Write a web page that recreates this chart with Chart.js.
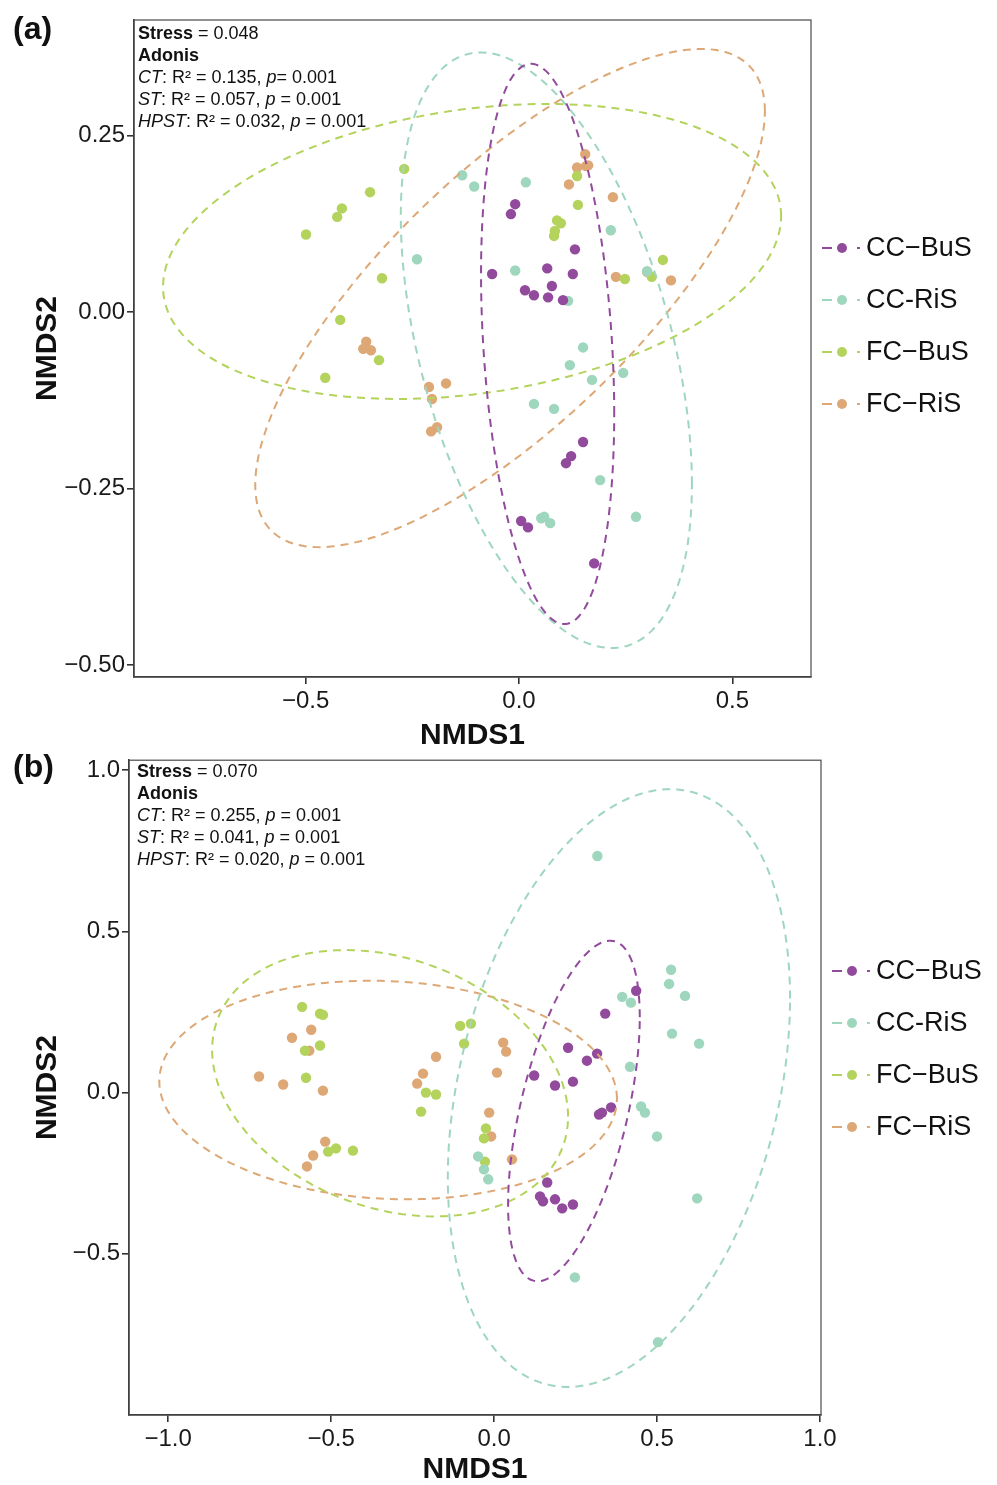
<!DOCTYPE html>
<html>
<head>
<meta charset="utf-8">
<script src="https://cdn.jsdelivr.net/npm/chart.js@4.4.1/dist/chart.umd.min.js"></script>
<style>
body { margin: 0; background: #fff; width: 997px; height: 1485px; position: relative; overflow: hidden; font-family: "Liberation Sans", Arial, sans-serif; }
canvas { position: absolute; left: 0; }
#chart-a { top: 0; }
#chart-b { top: 755px; }
.note { position: absolute; font-size: 18px; line-height: 22px; color: #111; white-space: nowrap; }
.tag { position: absolute; font-size: 32px; font-weight: bold; color: #111; }
</style>
</head>
<body>
<canvas id="chart-a" width="997" height="755"></canvas>
<canvas id="chart-b" width="997" height="730"></canvas>
<div class="tag" style="left:13px;top:10px">(a)</div>
<div class="tag" style="left:13px;top:748px">(b)</div>
<div class="note" style="left:138px;top:22px"><b>Stress</b> = 0.048<br><b>Adonis</b><br><i>CT</i>: R² = 0.135, <i>p</i>= 0.001<br><i>ST</i>: R² = 0.057, <i>p</i> = 0.001<br><i>HPST</i>: R² = 0.032, <i>p</i> = 0.001</div>
<div class="note" style="left:137px;top:760px"><b>Stress</b> = 0.070<br><b>Adonis</b><br><i>CT</i>: R² = 0.255, <i>p</i> = 0.001<br><i>ST</i>: R² = 0.041, <i>p</i> = 0.001<br><i>HPST</i>: R² = 0.020, <i>p</i> = 0.001</div>
<script>
const groups = ['CC−BuS', 'CC-RiS', 'FC−BuS', 'FC−RiS'];
const groupColors = ['#924B9C', '#9ED6BE', '#B3D35C', '#DDA875'];

// ---- panel (a) points ----
const aCCBuSx = [-0.009, -0.019, 0.131, -0.063, 0.066, 0.126, 0.077, 0.014, 0.035, 0.068, 0.103, 0.150, 0.122, 0.110, 0.005, 0.021, 0.176];
const aCCBuSy = [0.153, 0.139, 0.089, 0.054, 0.062, 0.054, 0.037, 0.031, 0.024, 0.021, 0.017, -0.184, -0.204, -0.214, -0.296, -0.305, -0.356];
const aCCRiSx = [-0.133, -0.105, 0.016, -0.239, 0.215, -0.009, 0.300, 0.115, 0.150, 0.119, 0.171, 0.244, 0.035, 0.082, 0.190, 0.052, 0.059, 0.073, 0.274];
const aCCRiSy = [0.194, 0.178, 0.184, 0.075, 0.116, 0.059, 0.058, 0.016, -0.050, -0.075, -0.096, -0.086, -0.130, -0.137, -0.238, -0.292, -0.290, -0.299, -0.290];
const aFCBuSx = [-0.269, -0.349, -0.415, -0.426, -0.499, -0.321, -0.419, -0.328, -0.454, 0.136, 0.138, 0.089, 0.098, 0.084, 0.082, 0.337, 0.248, 0.311];
const aFCBuSy = [0.203, 0.170, 0.147, 0.135, 0.110, 0.048, -0.011, -0.068, -0.093, 0.193, 0.152, 0.130, 0.126, 0.115, 0.108, 0.074, 0.047, 0.050];
const aFCRiSx = [0.155, 0.136, 0.157, 0.162, 0.117, 0.220, 0.227, 0.300, 0.356, -0.358, -0.365, -0.347, -0.211, -0.171, -0.204, -0.206, -0.192];
const aFCRiSy = [0.224, 0.205, 0.207, 0.208, 0.181, 0.163, 0.050, 0.057, 0.045, -0.042, -0.052, -0.054, -0.106, -0.101, -0.123, -0.169, -0.163];

// ellipse: centre x, centre y, half width, half height, correlation
const aCCBuSell = [0.067, -0.045, 0.156, 0.397, -0.25];
const aCCRiSell = [0.064, -0.054, 0.341, 0.422, -0.45];
const aFCBuSell = [-0.110, 0.086, 0.724, 0.209, 0.24];
const aFCRiSell = [-0.021, 0.020, 0.597, 0.353, 0.75];

const aXTicks = [-0.5, 0, 0.5];
const aXLabels = ['−0.5', '0.0', '0.5'];
const aYTicks = [-0.5, -0.25, 0, 0.25];
const aYLabels = ['−0.50', '−0.25', '0.00', '0.25'];

// ---- panel (b) points ----
const bCCBuSx = [0.436, 0.341, 0.227, 0.316, 0.285, 0.123, 0.242, 0.187, 0.359, 0.331, 0.322, 0.163, 0.141, 0.150, 0.187, 0.242, 0.209];
const bCCBuSy = [0.316, 0.245, 0.139, 0.121, 0.099, 0.053, 0.034, 0.022, -0.046, -0.062, -0.068, -0.279, -0.322, -0.337, -0.331, -0.347, -0.359];
const bCCRiSx = [0.317, 0.543, 0.537, 0.586, 0.393, 0.420, 0.546, 0.629, 0.417, 0.451, 0.463, 0.500, 0.623, 0.248, 0.503, -0.049, -0.031, -0.018];
const bCCRiSy = [0.734, 0.381, 0.337, 0.300, 0.297, 0.279, 0.183, 0.152, 0.080, -0.043, -0.062, -0.136, -0.328, -0.573, -0.774, -0.198, -0.238, -0.269];
const bFCBuSx = [-0.589, -0.534, -0.525, -0.534, -0.580, -0.577, -0.509, -0.485, -0.433, -0.104, -0.071, -0.092, -0.209, -0.178, -0.224, -0.025, -0.031, -0.028];
const bFCBuSy = [0.266, 0.245, 0.241, 0.146, 0.130, 0.046, -0.183, -0.173, -0.180, 0.207, 0.214, 0.152, 0.000, -0.006, -0.059, -0.111, -0.142, -0.214];
const bFCRiSx = [-0.561, -0.620, -0.567, -0.721, -0.647, -0.525, -0.518, -0.555, -0.574, -0.178, -0.218, -0.236, 0.028, 0.037, 0.009, -0.015, -0.009, 0.055];
const bFCRiSy = [0.195, 0.170, 0.130, 0.050, 0.025, 0.006, -0.152, -0.195, -0.229, 0.111, 0.059, 0.028, 0.155, 0.127, 0.062, -0.062, -0.136, -0.207];

const bCCBuSell = [0.245, -0.057, 0.202, 0.528, 0.55];
const bCCRiSell = [0.383, 0.014, 0.525, 0.927, 0.30];
const bFCBuSell = [-0.319, 0.029, 0.546, 0.413, -0.25];
const bFCRiSell = [-0.325, 0.008, 0.702, 0.339, -0.08];

const bXTicks = [-1, -0.5, 0, 0.5, 1];
const bXLabels = ['−1.0', '−0.5', '0.0', '0.5', '1.0'];
const bYTicks = [-0.5, 0, 0.5, 1];
const bYLabels = ['−0.5', '0.0', '0.5', '1.0'];

const FONT = '"Liberation Sans", Arial, sans-serif';

// outline of an ellipse given centre, half extents and x/y correlation
function ellipseOutline(e) {
    const [cx, cy, rx, ry, rho] = e;
    const phi = Math.acos(rho);
    const pts = [];
    for (let i = 0; i <= 180; i++) {
        const t = i / 180 * 2 * Math.PI;
        pts.push({ x: cx + rx * Math.cos(t), y: cy + ry * Math.cos(t - phi) });
    }
    return pts;
}

function zip(xs, ys) {
    return xs.map((x, i) => ({ x: x, y: ys[i] }));
}

const frame = {
    id: 'frame',
    afterDatasetsDraw(chart) {
        const a = chart.chartArea;
        const ctx = chart.ctx;
        ctx.save();
        ctx.strokeStyle = '#4a4a4a';
        ctx.lineWidth = 1.2;
        ctx.strokeRect(a.left, a.top, a.right - a.left, a.bottom - a.top);
        ctx.restore();
    }
};

const sideLegend = {
    id: 'sideLegend',
    afterDraw(chart, args, opts) {
        const ctx = chart.ctx;
        ctx.save();
        groups.forEach((name, i) => {
            const y = opts.top + i * opts.gap;
            ctx.strokeStyle = groupColors[i];
            ctx.lineWidth = 2;
            ctx.setLineDash([10, 25]);
            ctx.beginPath();
            ctx.moveTo(opts.x, y);
            ctx.lineTo(opts.x + 38, y);
            ctx.stroke();
            ctx.setLineDash([]);
            ctx.fillStyle = groupColors[i];
            ctx.beginPath();
            ctx.arc(opts.x + 20, y, 5, 0, 2 * Math.PI);
            ctx.fill();
            ctx.fillStyle = '#111';
            ctx.font = '27px ' + FONT;
            ctx.textBaseline = 'middle';
            ctx.fillText(name, opts.x + 44, y + 1);
        });
        ctx.restore();
    }
};

function makeChart(id, pointSets, ellipses, p) {
    const datasets = [];
    ellipses.forEach((e, i) => {
        datasets.push({
            data: ellipseOutline(e),
            showLine: true,
            pointRadius: 0,
            borderColor: groupColors[i],
            borderWidth: 2,
            borderDash: [8, 6],
            fill: false,
            tension: 0,
            order: 1
        });
    });
    pointSets.forEach((s, i) => {
        datasets.push({
            data: zip(s[0], s[1]),
            pointRadius: 5.2,
            pointBorderWidth: 0,
            backgroundColor: groupColors[i],
            borderColor: groupColors[i],
            order: 2
        });
    });

    const tickFont = { family: FONT, size: 24 };
    const titleFont = { family: FONT, size: 30, weight: 'bold', lineHeight: 1 };

    return new Chart(document.getElementById(id), {
        type: 'scatter',
        data: { datasets: datasets },
        plugins: [frame, sideLegend],
        options: {
            responsive: false,
            animation: false,
            events: [],
            layout: { padding: p.padding },
            plugins: {
                legend: { display: false },
                tooltip: { enabled: false },
                sideLegend: p.legend
            },
            scales: {
                x: {
                    type: 'linear',
                    min: p.xMin, max: p.xMax,
                    afterBuildTicks: s => { s.ticks = p.xTicks.map(v => ({ value: v })); },
                    afterFit: s => { s.height = p.xAxisH; s.paddingLeft = 0; s.paddingRight = 0; },
                    ticks: {
                        font: tickFont, color: '#1a1a1a', padding: 3, maxRotation: 0,
                        callback: (v, i) => p.xLabels[i]
                    },
                    grid: { display: true, drawOnChartArea: false, drawTicks: true, tickLength: 7, tickColor: '#333', lineWidth: 1.6 },
                    border: { display: true, color: '#333', width: 1.5 },
                    title: { display: true, text: 'NMDS1', font: titleFont, color: '#111', padding: { top: 0, bottom: p.xTitlePad } }
                },
                y: {
                    type: 'linear',
                    min: p.yMin, max: p.yMax,
                    afterBuildTicks: s => { s.ticks = p.yTicks.map(v => ({ value: v })); },
                    afterFit: s => { s.width = p.yAxisW; s.paddingTop = 0; s.paddingBottom = 0; },
                    ticks: {
                        font: tickFont, color: '#1a1a1a', padding: 2,
                        callback: (v, i) => p.yLabels[i]
                    },
                    grid: { display: true, drawOnChartArea: false, drawTicks: true, tickLength: 7, tickColor: '#333', lineWidth: 1.6 },
                    border: { display: true, color: '#333', width: 1.5 },
                    title: { display: true, text: 'NMDS2', font: titleFont, color: '#111', padding: { top: 33, bottom: 0 } }
                }
            }
        }
    });
}

makeChart('chart-a',
    [[aCCBuSx, aCCBuSy], [aCCRiSx, aCCRiSy], [aFCBuSx, aFCBuSy], [aFCRiSx, aFCRiSy]],
    [aCCBuSell, aCCRiSell, aFCBuSell, aFCRiSell],
    {
        padding: { left: 0, top: 20, right: 186, bottom: 4 },
        xMin: -0.902, xMax: 0.684, yMin: -0.517, yMax: 0.414,
        xTicks: aXTicks, xLabels: aXLabels, yTicks: aYTicks, yLabels: aYLabels,
        xAxisH: 74, yAxisW: 134, xTitlePad: 0,
        legend: { x: 822, top: 248, gap: 52 }
    });

makeChart('chart-b',
    [[bCCBuSx, bCCBuSy], [bCCRiSx, bCCRiSy], [bFCBuSx, bFCBuSy], [bFCRiSx, bFCRiSy]],
    [bCCBuSell, bCCRiSell, bFCBuSell, bFCRiSell],
    {
        padding: { left: 0, top: 4, right: 176, bottom: 0 },
        xMin: -1.12, xMax: 1.003, yMin: -1.0, yMax: 1.031,
        xTicks: bXTicks, xLabels: bXLabels, yTicks: bYTicks, yLabels: bYLabels,
        xAxisH: 70, yAxisW: 129, xTitlePad: 0,
        legend: { x: 832, top: 216, gap: 52 }
    });
</script>
</body>
</html>
